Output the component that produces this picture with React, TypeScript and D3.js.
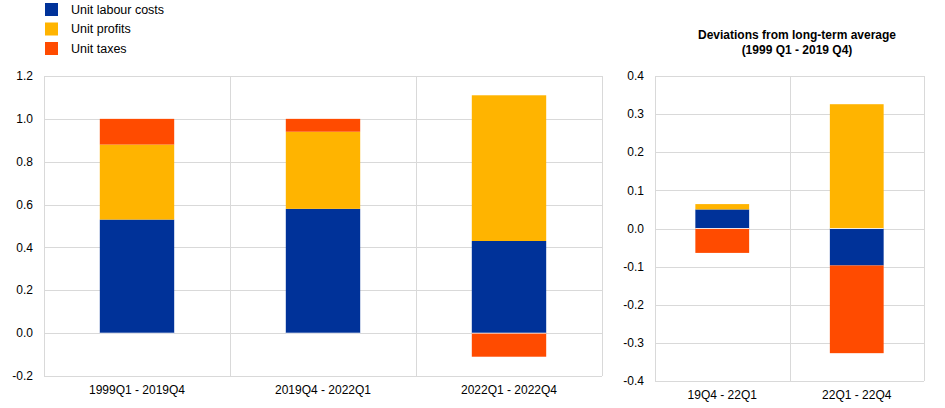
import React from "react";
import * as d3 from "d3";

const seriesNames = ["Unit labour costs", "Unit profits", "Unit taxes"];
const seriesColors = ["#003299", "#FFB400", "#FF4B00"];

const leftCategories = ["1999Q1 - 2019Q4", "2019Q4 - 2022Q1", "2022Q1 - 2022Q4"];
const leftLabour = [0.53, 0.58, 0.43];
const leftProfits = [0.35, 0.36, 0.68];
const leftTaxes = [0.12, 0.06, -0.11];
const leftTicks = [-0.2, 0, 0.2, 0.4, 0.6, 0.8, 1.0, 1.2];

const rightCategories = ["19Q4 - 22Q1", "22Q1 - 22Q4"];
const rightLabour = [0.05, -0.097];
const rightProfits = [0.014, 0.326];
const rightTaxes = [-0.064, -0.23];
const rightTicks = [-0.4, -0.3, -0.2, -0.1, 0, 0.1, 0.2, 0.3, 0.4];
const rightTitle = ["Deviations from long-term average", "(1999 Q1 - 2019 Q4)"];

const FONT = "'Liberation Sans', Arial, sans-serif";
const GRID = "#d9d9d9";

type PanelProps = {
  cats: string[];
  labour: number[];
  profits: number[];
  taxes: number[];
  ticks: number[];
  left: number;
  right: number;
  top: number;
  bottom: number;
  tickFmt: (v: number) => string;
};

function Panel({ cats, labour, profits, taxes, ticks, left, right, top, bottom, tickFmt }: PanelProps) {
  const x = d3.scaleBand<string>().domain(cats).range([left, right]).paddingInner(0).paddingOuter(0);
  const y = d3.scaleLinear().domain([ticks[0], ticks[ticks.length - 1]]).range([bottom, top]);
  const rows = cats.map((c, i) => ({ cat: c, a: labour[i], b: profits[i], c2: taxes[i] }));
  const stack = d3.stack<any>().keys(["a", "b", "c2"]).offset(d3.stackOffsetDiverging);
  const layers = stack(rows);
  const bw = x.bandwidth() * 0.4;
  return (
    <g>
      {ticks.map((t) => (
        <line key={"g" + t} x1={left} x2={right} y1={Math.round(y(t)) + 0.5} y2={Math.round(y(t)) + 0.5} stroke={GRID} strokeWidth={1} />
      ))}
      {cats.map((c) => (
        <line key={"v" + c} x1={Math.round(x(c)!) + 0.5} x2={Math.round(x(c)!) + 0.5} y1={top} y2={bottom} stroke={GRID} strokeWidth={1} />
      ))}
      <line x1={right + 0.5} x2={right + 0.5} y1={top} y2={bottom} stroke={GRID} strokeWidth={1} />
      {layers.map((layer, li) =>
        layer.map((d, i) => {
          const y0 = y(d[0]);
          const y1 = y(d[1]);
          const cx = x(cats[i])! + x.bandwidth() / 2;
          return (
            <rect
              key={li + "-" + i}
              x={cx - bw / 2}
              width={bw}
              y={Math.min(y0, y1)}
              height={Math.abs(y1 - y0)}
              fill={seriesColors[li]}
            />
          );
        })
      )}
      {cats.map((c) => {
        const cx = x(c)! + x.bandwidth() / 2;
        return <line key={"z" + c} x1={cx - bw / 2} x2={cx + bw / 2} y1={y(0)} y2={y(0)} stroke="#ffffff" strokeWidth={1} strokeOpacity={0.8} />;
      })}
      {ticks.map((t) => (
        <text key={"t" + t} x={left - 11} y={y(t)} dy="0.35em" textAnchor="end" fontSize={12} fontFamily={FONT} fill="#000">
          {tickFmt(t)}
        </text>
      ))}
      {cats.map((c) => (
        <text key={"l" + c} x={x(c)! + x.bandwidth() / 2} y={bottom + 18} textAnchor="middle" fontSize={12} fontFamily={FONT} fill="#000">
          {c}
        </text>
      ))}
    </g>
  );
}

export default function App() {
  const fmt = (v: number) => d3.format(".1f")(v).replace("−", "-");
  return (
    <svg width={945} height={408} style={{ position: "absolute", left: 0, top: 0, background: "#fff" }}>
      {seriesNames.map((n, i) => (
        <g key={n}>
          <rect x={45} y={3 + i * 19.5} width={13} height={13} fill={seriesColors[i]} />
          <text x={71} y={9.5 + i * 19.5} dy="0.35em" fontSize={12.5} fontFamily={FONT} fill="#000">
            {n}
          </text>
        </g>
      ))}
      <Panel
        cats={leftCategories}
        labour={leftLabour}
        profits={leftProfits}
        taxes={leftTaxes}
        ticks={leftTicks}
        left={44}
        right={602}
        top={76}
        bottom={376}
        tickFmt={fmt}
      />
      <Panel
        cats={rightCategories}
        labour={rightLabour}
        profits={rightProfits}
        taxes={rightTaxes}
        ticks={rightTicks}
        left={655}
        right={924}
        top={76}
        bottom={381}
        tickFmt={fmt}
      />
      {rightTitle.map((t, i) => (
        <text key={t} x={797} y={39 + i * 15} textAnchor="middle" fontSize={12} fontWeight="bold" fontFamily={FONT} fill="#000">
          {t}
        </text>
      ))}
    </svg>
  );
}
